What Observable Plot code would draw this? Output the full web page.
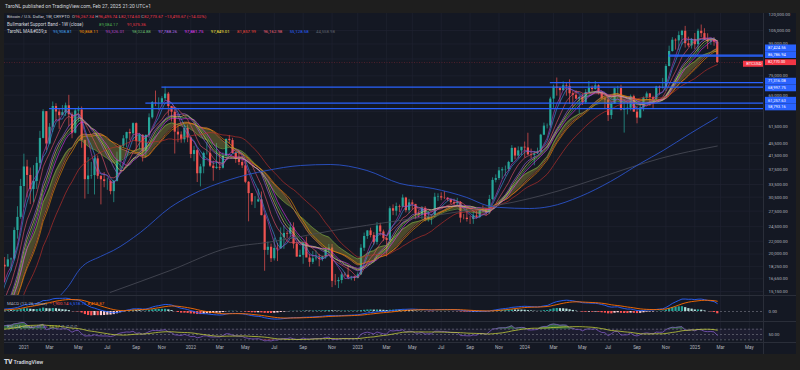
<!DOCTYPE html>
<html>
<head>
<meta charset="utf-8">
<script src="https://cdn.jsdelivr.net/npm/d3@7"></script>
<script src="https://cdn.jsdelivr.net/npm/@observablehq/plot@0.6"></script>
<style>
  html, body { margin:0; padding:0; width:800px; height:370px; overflow:hidden; background:#1e1e1e; }
  body { font-family: Roboto, "Liberation Sans", Arial, sans-serif; }
  #root { position:relative; width:800px; height:370px; }
  #header { position:absolute; left:5px; top:0; height:13px; line-height:13px; font-size:5px; color:#d1d4dc; white-space:nowrap; }
  #chart { position:absolute; left:4px; top:13px; width:792px; height:341px; background:#141823; overflow:hidden; }
  .pane { position:absolute; left:0; }
  .sep { position:absolute; background:#2a2e39; }
  .legend { position:absolute; left:3px; font-size:4.3px; line-height:6px; white-space:nowrap; color:#b2b5be; }
  .legend span { margin-right:1.4px; }
  .legend .c { display:inline-block; margin:0; }
  #footer { position:absolute; left:0; top:354px; width:800px; height:16px; background:#1e1e1e; }
</style>
</head>
<body>
<div id="root">
  <div id="header">TaroNL published on TradingView.com, Feb 27, 2025 21:20 UTC+1</div>
  <div id="chart">
    <div id="pricePane" class="pane" style="top:0"></div>
    <div id="macdPane" class="pane" style="top:282px"></div>
    <div id="rsiPane" class="pane" style="top:308px"></div>
    <div id="tagCol" class="pane" style="top:0; left:739px"></div>
    <div id="axisCol" class="pane" style="top:0; left:761px"></div>
    <div class="sep" style="left:0; top:282px; width:792px; height:0.7px"></div>
    <div class="sep" style="left:0; top:308px; width:792px; height:0.7px"></div>
    <div class="sep" style="left:0; top:329px; width:792px; height:0.7px"></div>
    <div class="sep" style="left:759px; top:0; width:0.7px; height:341px"></div>

    <div class="legend" style="top:1.3px">
      <span style="color:#d1d4dc">Bitcoin / U.S. Dollar, 1W, CRYPTO</span>
      <span>O<b style="font-weight:400;color:#f23645">96,267.34</b></span><span>H<b style="font-weight:400;color:#f23645">96,495.74</b></span><span>L<b style="font-weight:400;color:#f23645">82,174.60</b></span><span>C<b style="font-weight:400;color:#f23645">82,773.67</b></span><span style="color:#f23645">−13,493.67 (−14.02%)</span>
    </div>
    <div class="legend" style="top:8.7px"><span class="c" style="color:#d1d4dc;width:92px;font-size:4.6px">Bullmarket Support Band - 1W (close)</span><span class="c" style="color:#4caf50;width:28px">89,084.17</span><span class="c" style="color:#f23645">91,575.36</span></div>
    <div class="legend" style="top:16.3px"><span class="c" style="color:#d1d4dc;width:46px;font-size:4.6px">TaroNL MA&amp;#039;s</span><span class="c" style="color:#42a5f5;width:26.3px">95,908.81</span><span class="c" style="color:#ff9800;width:26.3px">90,868.11</span><span class="c" style="color:#ba45c9;width:26.3px">95,326.01</span><span class="c" style="color:#66bb6a;width:26.3px">98,024.88</span><span class="c" style="color:#b46cf0;width:26.3px">97,788.26</span><span class="c" style="color:#e040fb;width:26.3px">97,881.75</span><span class="c" style="color:#ffeb3b;width:26.3px">97,849.01</span><span class="c" style="color:#f44336;width:26.3px">81,857.99</span><span class="c" style="color:#f0617a;width:26.3px">96,162.98</span><span class="c" style="color:#2962ff;width:26.3px">55,128.58</span><span class="c" style="color:#5d606b">44,558.98</span></div>
    <div class="legend" style="top:288px">
      <span>MACD (12, 26, close)</span>
      <span style="color:#ff5252">−1,900.14</span><span style="color:#2962ff">6,518.73</span><span style="color:#ff6d00">8,418.87</span>
    </div>
    <div class="legend" style="top:311px">
      <span>RSI (14, close)</span>
      <span style="color:#7e57c2">46.46</span><span style="color:#c2cc3a">55.57</span><span>∅</span><span>∅</span><span>∅</span><span>∅</span>
    </div>
  </div>
  <div id="footer">
    <span style="position:absolute;left:4px;top:3.6px;font-size:6.8px;font-weight:900;color:#d1d4dc;letter-spacing:-0.4px">TV</span>
    <span style="position:absolute;left:13.5px;top:4.6px;font-size:5.3px;font-weight:600;color:#d1d4dc">TradingView</span>
  </div>
</div>

<script>
// ---------------- DATA (prices in thousands of USD) ----------------
// weekly closes before the first visible candle (used only to seed the moving averages)
const warmupStart = "2020-04-20";
const warmupCloses = [7.70, 8.90, 8.72, 9.68, 8.72, 9.45, 9.65, 9.34, 9.30, 9.00, 9.08, 9.24, 9.16, 9.93,
  11.10, 11.68, 11.91, 11.65, 11.70, 10.28, 10.67, 11.08, 10.74, 10.67, 11.38, 11.50, 13.03, 13.76, 15.48, 15.96, 18.42];

// weekly candles [open, high, low, close]
const start2020 = "2020-11-23";
const btc2020 = [
  [18.42,19.49,16.19,18.18],[18.18,19.92,18.11,19.16],[19.16,19.42,17.61,19.28],[19.28,24.30,19.00,23.81],
  [23.81,28.42,22.35,26.25],[26.25,34.81,25.88,33.00]];
const start2021 = "2021-01-04";
const btc2021 = [
  [33.00,41.95,28.13,38.15],[38.15,40.10,30.31,35.83],[35.83,37.85,28.85,32.26],[32.26,38.53,29.24,34.27],
  [34.27,40.96,32.30,39.19],[39.19,49.71,37.36,47.16],[47.16,58.35,46.98,57.49],[57.49,57.53,43.02,45.24],
  [45.24,52.64,45.00,51.21],[51.21,61.78,49.30,59.76],[59.76,60.98,53.27,57.35],[57.35,58.40,50.43,55.82],
  [55.82,60.16,55.76,57.06],[57.06,61.28,55.50,60.06],[60.06,64.90,51.50,56.20],[56.20,57.00,47.04,49.02],
  [49.02,58.46,48.75,57.81],[57.81,59.59,53.07,58.24],[58.24,59.52,43.83,46.43],[46.43,46.62,30.07,34.72],
  [34.72,40.88,31.11,35.68],[35.68,39.48,34.82,35.80],[35.80,41.33,31.00,40.52],[40.52,41.40,34.81,35.60],
  [35.60,35.75,28.80,34.70],[34.70,36.60,32.70,34.24],[34.24,35.10,32.08,34.26],[34.26,34.60,31.03,31.78],
  [31.78,34.50,29.28,34.29],[34.29,42.60,34.13,39.87],[39.87,44.79,37.33,44.50],[44.50,48.14,43.80,47.01],
  [47.01,49.38,43.95,49.25],[49.25,50.50,46.30,48.81],[48.81,52.92,46.51,52.63],[52.63,52.92,42.84,46.03],
  [46.03,48.84,43.37,48.28],[48.28,48.40,39.60,42.82],[42.82,48.44,40.80,48.20],[48.20,56.56,47.10,54.94],
  [54.94,62.00,54.40,61.53],[61.53,67.00,59.70,61.31],[61.31,63.71,58.00,61.32],[61.32,64.27,59.50,63.30],
  [63.30,69.00,62.30,65.50],[65.50,66.33,55.60,59.73],[59.73,59.80,53.26,57.27],[57.27,59.12,42.00,49.40],
  [49.40,51.94,45.67,48.38],[48.38,49.50,45.50,46.68],[46.68,51.87,45.56,50.78],[50.78,52.09,45.68,47.30]];
const start2022 = "2022-01-03";
const btc2022 = [
  [47.30,47.55,40.60,41.86],[41.86,44.46,39.65,43.08],[43.08,43.50,34.00,36.28],[36.28,38.90,32.92,38.17],
  [38.17,42.62,36.27,42.20],[42.20,45.82,41.65,42.22],[42.22,44.75,38.00,38.39],[38.39,39.80,34.32,37.71],
  [37.71,45.40,37.48,38.06],[38.06,42.58,37.16,37.79],[37.79,42.33,37.58,41.26],[41.26,46.92,40.50,46.83],
  [46.83,48.20,45.20,46.40],[46.40,47.20,42.00,42.16],[42.16,42.42,39.20,40.38],[40.38,42.98,38.55,39.45],
  [39.45,40.80,37.70,38.47],[38.47,40.02,33.71,34.06],[34.06,34.24,25.40,31.31],[31.31,31.33,28.71,29.43],
  [29.43,30.62,28.02,29.44],[29.44,32.35,29.30,29.90],[29.90,31.69,26.56,26.59],[26.59,26.88,17.60,20.55],
  [20.55,21.86,19.81,21.03],[21.03,21.54,18.78,19.31],[19.31,22.50,19.00,20.85],[20.85,21.64,18.91,20.79],
  [20.79,24.28,20.76,22.58],[22.58,24.67,20.71,23.30],[23.30,23.65,22.42,23.18],[23.18,25.21,22.66,24.30],
  [24.30,25.20,20.77,21.52],[21.52,21.82,19.55,19.55],[19.55,20.58,19.53,19.80],[19.80,21.80,18.54,21.65],
  [21.65,22.67,19.62,19.42],[19.42,19.95,18.13,18.80],[18.80,20.37,18.50,19.31],[19.31,20.46,19.00,19.42],
  [19.42,19.95,18.19,19.21],[19.21,19.70,18.90,19.57],[19.57,20.99,19.24,20.63],[20.63,21.48,20.05,20.91],
  [20.91,21.47,15.59,16.33],[16.33,17.19,15.82,16.29],[16.29,16.77,15.48,16.44],[16.44,17.42,16.03,17.13],
  [17.13,17.40,16.87,17.10],[17.10,18.39,16.53,16.80],[16.80,16.95,16.40,16.84],[16.84,16.97,16.33,16.68]];
const start2023 = "2023-01-02";
const btc2023 = [
  [16.68,17.40,16.63,17.13],[17.13,21.44,17.10,20.88],[20.88,23.37,20.40,22.78],[22.78,23.81,22.30,23.74],
  [23.74,24.23,22.55,22.94],[22.94,23.43,21.36,21.80],[21.80,25.25,21.38,24.63],[24.63,25.13,22.84,23.55],
  [23.55,23.89,21.96,22.42],[22.42,22.60,19.57,22.13],[22.13,28.40,21.92,27.99],[27.99,28.80,26.60,27.48],
  [27.48,29.18,26.50,28.46],[28.46,28.77,27.20,28.32],[28.32,31.00,28.17,30.30],[30.30,30.47,27.13,27.59],
  [27.59,30.00,26.94,29.23],[29.23,29.82,27.67,28.90],[28.90,28.90,25.81,26.92],[26.92,27.65,26.10,26.75],
  [26.75,28.45,25.86,28.08],[28.08,28.44,25.39,25.84],[25.84,27.40,25.35,26.34],[26.34,26.80,24.80,26.34],
  [26.34,31.39,26.26,30.48],[30.48,31.26,29.55,30.59],[30.59,31.50,29.71,30.30],[30.30,31.80,29.96,30.25],
  [30.25,30.40,29.50,29.90],[29.90,30.00,28.86,29.28],[29.28,30.05,28.60,29.05],[29.05,30.24,28.75,29.30],
  [29.30,29.50,25.17,26.10],[26.10,26.80,25.78,26.09],[26.09,28.14,25.36,25.84],[25.84,26.40,24.90,25.83],
  [25.83,27.48,24.93,26.53],[26.53,27.48,26.00,26.25],[26.25,28.07,26.00,27.97],[27.97,28.58,27.16,27.93],
  [27.93,27.98,26.54,27.15],[27.15,30.90,26.80,29.97],[29.97,35.20,29.68,34.53],[34.53,35.98,33.90,35.02],
  [35.02,38.00,34.53,37.06],[37.06,37.97,34.78,37.38],[37.38,38.42,35.63,37.45],[37.45,39.79,36.90,39.47],
  [39.47,44.70,39.45,43.79],[43.79,44.04,40.21,41.36],[41.36,44.29,40.55,42.99],[42.99,43.80,41.43,44.18]];
const start2024 = "2024-01-01";
const btc2024 = [
  [44.18,45.90,40.75,43.94],[43.94,49.00,41.50,41.73],[41.73,43.57,40.50,41.58],[41.58,42.84,38.50,42.03],
  [42.03,43.88,41.85,42.58],[42.58,48.59,42.26,48.30],[48.30,52.82,48.13,51.66],[51.66,52.50,50.60,51.73],
  [51.73,64.00,50.90,63.13],[63.13,69.99,59.00,68.96],[68.96,73.80,64.54,68.37],[68.37,68.92,60.77,67.21],
  [67.21,71.73,66.90,69.65],[69.65,71.30,64.50,69.36],[69.36,72.80,60.66,65.66],[65.66,66.87,59.60,64.94],
  [64.94,67.20,62.80,63.12],[63.12,64.70,56.55,63.90],[63.90,65.49,60.20,61.48],[61.48,67.70,60.75,66.27],
  [66.27,71.95,66.06,68.51],[68.51,69.55,66.60,67.76],[67.76,71.95,67.51,69.65],[69.65,70.17,65.05,66.22],
  [66.22,66.95,63.00,63.21],[63.21,63.36,58.40,62.68],[62.68,63.78,53.48,55.86],[55.86,61.40,54.27,60.80],
  [60.80,68.37,60.63,68.16],[68.16,69.40,63.46,68.26],[68.26,70.00,57.80,58.16],[58.16,62.73,49.05,58.71],
  [58.71,61.80,56.15,59.00],[59.00,65.06,57.80,64.26],[64.26,64.98,57.20,57.30],[57.30,59.80,52.55,54.84],
  [54.84,60.60,54.57,59.12],[59.12,64.13,57.50,63.58],[63.58,66.50,62.60,65.60],[65.60,65.70,59.83,63.88],
  [63.88,64.47,58.90,62.87],[62.87,69.40,62.40,69.03],[69.03,69.50,65.07,68.36],[68.36,73.60,68.00,68.75],
  [68.75,81.50,66.80,80.40],[80.40,93.48,80.20,89.85],[89.85,99.59,89.40,97.70],[97.70,98.70,90.80,97.20],
  [97.20,104.00,90.50,101.10],[101.10,105.10,94.20,104.40],[104.40,108.27,92.20,95.20],[95.20,99.90,92.50,93.70],
  [93.70,99.00,91.50,98.30]];
const start2025 = "2025-01-06";
const btc2025 = [
  [98.30,102.70,91.20,94.50],[94.50,106.00,89.30,104.40],[104.40,109.35,99.60,102.60],[102.60,106.40,97.80,97.70],
  [97.70,102.50,91.20,96.50],[96.50,98.80,94.10,97.60],[97.60,99.50,93.40,96.27],[96.27,96.50,82.17,82.77]];

// long moving averages (blue and grey)
const ma100Dates = ["2021-03-20","2021-04-09","2021-05-07","2021-06-20","2021-07-18","2021-09-15","2021-11-19",
  "2022-01-02","2022-03-30","2022-06-18","2022-08-30","2022-11-03","2023-01-22","2023-04-04","2023-06-15",
  "2023-08-28","2023-10-11","2023-11-08","2024-01-12","2024-02-25","2024-05-01","2024-07-06","2024-09-09",
  "2024-10-29","2024-12-27","2025-02-24"];
const ma100Values = [14.49, 15.60, 17.96, 19.64, 20.53, 23.47, 28.25, 30.88, 34.77, 37.17, 38.57, 38.86, 37.17,
  33.75, 32.52, 30.42, 28.66, 28.25, 28.04, 28.46, 30.65, 34.25, 39.15, 43.11, 48.91, 55.13];
const ma200Dates = ["2021-07-11","2021-11-19","2022-03-30","2022-06-18","2022-11-10","2023-04-04","2023-08-28",
  "2024-01-12","2024-03-18","2024-06-14","2024-08-18","2024-10-22","2025-02-24"];
const ma200Values = [15.04, 17.70, 21.00, 21.79, 23.82, 25.65, 27.62, 30.19, 32.05, 35.28, 38.00, 40.62, 44.56];

// horizontal support / resistance levels
const levelPrices = [87.42456, 86.78694, 71.31608, 68.99775, 61.25763, 58.79316];
const levelStarts = ["2024-11-11", "2024-11-11", "2024-02-26", "2021-11-01", "2021-09-27", "2021-03-01"];

// price axis ticks (grid) and the ones whose labels are not hidden behind level tags
const priceTicks = [105, 95, 85, 75, 65, 57.5, 51.5, 45.5, 41.5, 37.5, 33.5, 30.5, 27.5, 24.5, 22, 20, 18.25, 16.65, 15.15];
const priceTickLabels = [105, 95, 75, 65, 51.5, 45.5, 41.5, 37.5, 33.5, 30.5, 27.5, 24.5, 22, 20, 18.25, 16.65, 15.15];
const topPriceTick = [120];
// time axis ticks (first weekly bar of the month)
const timeTicks = ["2021-01-04","2021-03-01","2021-05-03","2021-07-05","2021-09-06","2021-11-01",
  "2022-01-03","2022-03-07","2022-05-02","2022-07-04","2022-09-05","2022-11-07",
  "2023-01-02","2023-03-06","2023-05-01","2023-07-03","2023-09-04","2023-11-06",
  "2024-01-01","2024-03-04","2024-05-06","2024-07-01","2024-09-02","2024-11-04",
  "2025-01-06","2025-03-03","2025-05-05"];
const timeTickLabels = ["2021","Mar","May","Jul","Sep","Nov","2022","Mar","May","Jul","Sep","Nov",
  "2023","Mar","May","Jul","Sep","Nov","2024","Mar","May","Jul","Sep","Nov","2025","Mar","May"];

// indicator settings
const maLengths = [6, 21, 5, 14, 12, 15, 13, 30, 9];
const maColors = ["#3d8fe0", "#f08c00", "#a93fbb", "#4caf50", "#9c5fd8", "#d43be8", "#d9c865", "#c2302b", "#e0506a"];

// ---------------- LAYOUT / STYLE ----------------
const parse = d3.utcParse("%Y-%m-%d");
const fmt2 = d3.format(",.2f");
const xStart = new Date(Date.UTC(2020, 10, 22, 18));
const xEnd = new Date(Date.UTC(2025, 5, 4, 19));
const priceDomain = [14.705, 119.11];
const gridColor = "#1f2330";
const upColor = "#26a69a", downColor = "#ef5350";
const labelShift = [-6.2, -0.2, 0.7, 3.2, -0.1, 1.3];
const baseStyle = {background: "transparent", color: "#b2b5be", fontFamily: "Roboto, 'Liberation Sans', sans-serif", fontSize: "4.4px", overflow: "hidden"};
const X = {type: "utc", domain: [xStart, xEnd], axis: null};

// ---------------- BUILD ----------------
function weeks(start, rows) {
  const s = parse(start);
  return rows.map((r, i) => ({date: d3.utcDay.offset(s, 7 * i), open: r[0], high: r[1], low: r[2], close: r[3]}));
}
const candles = [
  ...weeks(start2020, btc2020), ...weeks(start2021, btc2021), ...weeks(start2022, btc2022),
  ...weeks(start2023, btc2023), ...weeks(start2024, btc2024), ...weeks(start2025, btc2025)];
const ws = parse(warmupStart);
const allDates = [...warmupCloses.map((_, i) => d3.utcDay.offset(ws, 7 * i)), ...candles.map(d => d.date)];
const allCloses = [...warmupCloses, ...candles.map(d => d.close)];

function sma(v, k) { return v.map((_, i) => { const s = v.slice(Math.max(0, i - k + 1), i + 1).filter(x => x != null); return s.length ? d3.mean(s) : null; }); }
function ema(v, n) { const a = 2 / (n + 1); let e; return v.map((x, i) => (e = i ? a * x + (1 - a) * e : x)); }
function rsiCalc(v, n) {
  let up = 0, dn = 0; const out = [null];
  for (let i = 1; i < v.length; i++) {
    const ch = v[i] - v[i - 1], g = Math.max(ch, 0), l = Math.max(-ch, 0);
    if (i <= n) { up += g / n; dn += l / n; } else { up = (up * (n - 1) + g) / n; dn = (dn * (n - 1) + l) / n; }
    out.push(i < n ? null : (dn === 0 ? 100 : 100 - 100 / (1 + up / dn)));
  }
  return out;
}
const sma20 = sma(allCloses, 20), ema21 = ema(allCloses, 21);
const mas = maLengths.map(k => sma(allCloses, k));
const e12 = ema(allCloses, 12), e26 = ema(allCloses, 26);
const macd = e12.map((v, i) => v - e26[i]);
const signal = ema(macd, 9);
const hist = macd.map((v, i) => v - signal[i]);
const rsi = rsiCalc(allCloses, 14);
const rsiMa = sma(rsi, 14);

const series = allDates.map((date, i) => ({
  date, close: allCloses[i], sma20: sma20[i], ema21: ema21[i], mas: mas.map(m => m[i]),
  macd: macd[i], signal: signal[i], hist: hist[i], rsi: rsi[i], rsiMa: rsiMa[i],
  histColor: hist[i] >= 0 ? (hist[i] >= (hist[i - 1] ?? 0) ? "#26a69a" : "#b2dfdb") : (hist[i] <= (hist[i - 1] ?? 0) ? "#ff5252" : "#ffcdd2")
}));
const vis = series.filter(d => d.date >= d3.utcDay.offset(xStart, -8));
const visBars = series.filter(d => d.date >= candles[0].date);
const ma100 = ma100Dates.map((d, i) => ({date: parse(d), value: ma100Values[i]}));
const ma200 = ma200Dates.map((d, i) => ({date: parse(d), value: ma200Values[i]}));
const levels = levelPrices.map((p, i) => ({price: p, start: parse(levelStarts[i])}));
const tickDates = timeTicks.map(parse);
const tickLabelMap = new Map(tickDates.map((d, i) => [+d, timeTickLabels[i]]));
const last = candles[candles.length - 1];
const candleColor = d => d.close >= d.open ? upColor : downColor;

// price pane
const pricePlot = Plot.plot({
  width: 792, height: 282, marginTop: 0, marginBottom: 0, marginLeft: 0, marginRight: 33,
  x: X, y: {type: "log", domain: priceDomain, axis: null}, style: baseStyle,
  marks: [
    Plot.ruleX(tickDates, {stroke: gridColor, strokeWidth: 0.7}),
    Plot.ruleY(priceTicks, {stroke: gridColor, strokeWidth: 0.7}),
    Plot.axisY(priceTickLabels, {anchor: "right", tickSize: 0, tickPadding: 5, fontSize: 4.4, tickFormat: d => fmt2(d * 1000)}),
    Plot.axisY(topPriceTick, {anchor: "right", tickSize: 0, tickPadding: 5, fontSize: 4.4, dy: 2.4, tickFormat: d => fmt2(d * 1000)}),
    Plot.ruleX(candles, {x: "date", y1: "low", y2: "high", stroke: candleColor, strokeWidth: 0.7, clip: true}),
    Plot.ruleX(candles, {x: "date", y1: "open", y2: "close", stroke: candleColor, strokeWidth: 2.2, clip: true}),
    Plot.areaY(vis, {x: "date", y1: "sma20", y2: "ema21", fill: "#9a9438", fillOpacity: 0.4, clip: true}),
    Plot.line(vis, {x: "date", y: "ema21", stroke: "#7cb342", strokeWidth: 0.7, strokeOpacity: 0.85, clip: true}),
    Plot.line(vis, {x: "date", y: "sma20", stroke: "#e57340", strokeWidth: 0.7, strokeOpacity: 0.85, clip: true}),
    ...maLengths.map((k, j) => Plot.line(vis, {x: "date", y: d => d.mas[j], stroke: maColors[j], strokeWidth: 0.75, strokeOpacity: 0.85, clip: true})),
    Plot.line(ma200, {x: "date", y: "value", stroke: "#4a4d58", strokeWidth: 0.8, curve: "monotone-x", clip: true}),
    Plot.line(ma100, {x: "date", y: "value", stroke: "#2a52c8", strokeWidth: 0.9, curve: "monotone-x", clip: true}),
    Plot.ruleY(levels, {y: "price", x1: "start", x2: () => xEnd, stroke: "#2962ff", strokeWidth: 1.3}),
    Plot.ruleY([last.close], {stroke: "#f23645", strokeOpacity: 0.45, strokeWidth: 0.6, strokeDasharray: "1,1.5"})
  ]
});
document.getElementById("pricePane").append(pricePlot);

// price labels column
const colMarks = [];
levels.forEach((l, i) => {
  colMarks.push(Plot.ruleY([l.price], {dy: labelShift[i], stroke: "#2962ff", strokeWidth: 7}));
  colMarks.push(Plot.text([l.price], {y: d => d, dy: labelShift[i], text: d => fmt2(d * 1000), frameAnchor: "left", dx: 2.5, fill: "#ffffff", fontSize: 4.2}));
});
colMarks.push(Plot.ruleY([last.close], {dy: 1.2, stroke: "#f23645", strokeWidth: 6}));
colMarks.push(Plot.text([last.close], {y: d => d, dy: 1.2, text: d => fmt2(d * 1000), frameAnchor: "left", dx: 2.5, fill: "#ffffff", fontSize: 4.1}));
document.getElementById("axisCol").append(Plot.plot({
  width: 32, height: 282, margin: 0, y: {type: "log", domain: priceDomain, axis: null}, style: baseStyle, marks: colMarks
}));
document.getElementById("tagCol").append(Plot.plot({
  width: 21, height: 282, margin: 0, y: {type: "log", domain: priceDomain, axis: null}, style: baseStyle,
  marks: [
    Plot.ruleY([last.close], {dy: 1.2, stroke: "#f23645", strokeWidth: 6}),
    Plot.text([last.close], {y: d => d, dy: 1.2, text: () => "BTCUSD", frameAnchor: "middle", fill: "#ffffff", fontSize: 4.1})
  ]
}));

// MACD pane
document.getElementById("macdPane").append(Plot.plot({
  width: 792, height: 26, marginTop: 0, marginBottom: 0, marginLeft: 0, marginRight: 33,
  x: X, y: {domain: [-8.33, 13.33], axis: null}, style: baseStyle,
  marks: [
    Plot.ruleX(tickDates, {stroke: gridColor, strokeWidth: 0.7}),
    Plot.ruleY([0], {stroke: "#787b86", strokeWidth: 0.6, strokeDasharray: "2,2"}),
    Plot.ruleX(visBars, {x: "date", y1: 0, y2: "hist", stroke: "histColor", strokeWidth: 2.2, clip: true}),
    Plot.line(vis, {x: "date", y: "macd", stroke: "#2962ff", strokeWidth: 0.9, clip: true}),
    Plot.line(vis, {x: "date", y: "signal", stroke: "#ff6d00", strokeWidth: 0.9, clip: true}),
    Plot.axisY([0], {anchor: "right", tickSize: 0, tickPadding: 5, fontSize: 4.4, tickFormat: d3.format(".2f")})
  ]
}));

// RSI pane + time axis
document.getElementById("rsiPane").append(Plot.plot({
  width: 792, height: 33, marginTop: 0, marginBottom: 12, marginLeft: 0, marginRight: 33,
  x: X, y: {domain: [19.8, 99.06], axis: null}, style: baseStyle,
  marks: [
    Plot.ruleX(tickDates, {stroke: gridColor, strokeWidth: 0.7}),
    Plot.rect([0], {y1: 30, y2: 70, fill: "#7e57c2", fillOpacity: 0.09}),
    Plot.ruleY([70, 50, 30], {stroke: "#787b86", strokeWidth: 0.6, strokeDasharray: "2,2"}),
    Plot.areaY(vis, {x: "date", y1: 70, y2: d => Math.max(d.rsi ?? 50, 70), fill: "#4caf50", fillOpacity: 0.5, clip: true}),
    Plot.areaY(vis, {x: "date", y1: 30, y2: d => Math.min(d.rsi ?? 50, 30), fill: "#f23645", fillOpacity: 0.4, clip: true}),
    Plot.line(vis, {x: "date", y: "rsi", stroke: "#7e57c2", strokeWidth: 0.8, clip: true}),
    Plot.line(vis, {x: "date", y: "rsiMa", stroke: "#c2cc3a", strokeWidth: 0.8, clip: true}),
    Plot.axisY([50], {anchor: "right", tickSize: 0, tickPadding: 5, fontSize: 4.4, tickFormat: d3.format(".2f")}),
    Plot.axisX(tickDates, {anchor: "bottom", tickSize: 0, tickPadding: 3.5, fontSize: 4.6, tickFormat: d => tickLabelMap.get(+d)})
  ]
}));
</script>
</body>
</html>
